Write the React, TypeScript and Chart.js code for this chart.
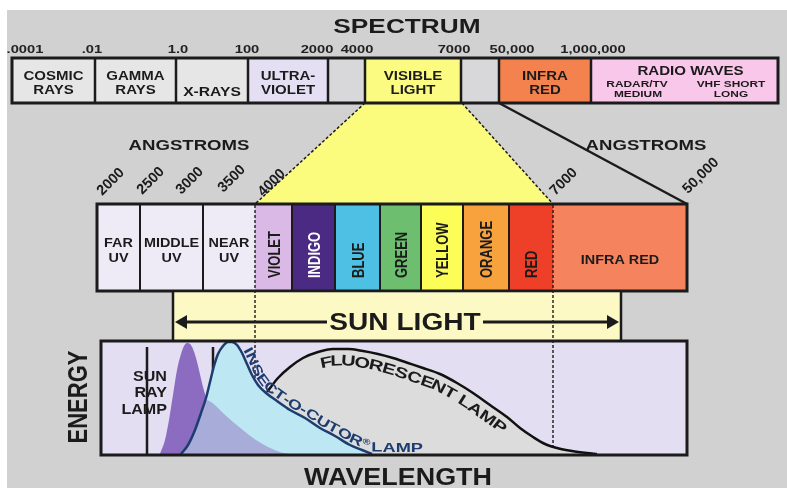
import React, { useEffect, useRef } from "react";
import Chart from "chart.js/auto";

// ---------------- data (diagram units on the chart's x / y scales) ----------------
const titleText = "SPECTRUM";
const topTickLabels = [".0001", ".01", "1.0", "100", "2000", "4000", "7000", "50,000", "1,000,000"];
const topTickAt = [25, 92, 178, 247, 317, 357, 454, 512, 593];

const topBandEdges = [12, 95, 176, 248, 328, 365, 461, 499, 591, 778];
const topBandNames: string[][] = [
  ["COSMIC", "RAYS"],
  ["GAMMA", "RAYS"],
  ["X-RAYS"],
  ["ULTRA-", "VIOLET"],
  [],
  ["VISIBLE", "LIGHT"],
  [],
  ["INFRA", "RED"],
  ["RADIO WAVES"],
];
const radioSubLabels = [["RADAR/TV", "MEDIUM"], ["VHF SHORT", "LONG"]];
const radioSubAt = [637, 731];

const angstromTitle = "ANGSTROMS";
const angstromTitleAt = [189, 646];
const angstromTickLabels = ["2000", "2500", "3000", "3500", "4000", "7000", "50,000"];
const angstromTickAt = [110, 150, 189, 231, 271, 563, 700];

const bandEdges = [97, 140, 203, 255, 292, 335, 380, 421, 463, 509, 553, 687];
const bandNames = ["FAR UV", "MIDDLE UV", "NEAR UV", "VIOLET", "INDIGO", "BLUE", "GREEN", "YELLOW", "ORANGE", "RED", "INFRA RED"];
const visibleEdges = [255, 553];
const visibleTopEdges = [365, 462];
const infraTopEdge = 499;
const sunLightRange = [173, 621];
const sunLightText = "SUN LIGHT";

const sunRayLampLines = [147, 213];
const sunRayLampText = ["SUN", "RAY", "LAMP"];

// energy curves (x = wavelength position, y = energy level, drawn on the diagram scales)
const purpleX = [160, 165, 169, 173, 177, 181, 184, 187, 190, 193, 196, 199, 202, 205, 208, 212, 216];
const purpleY = [454, 440, 420, 395, 370, 354, 346, 343, 344, 349, 358, 370, 383, 394, 402, 425, 454];

const insectX = [181, 188, 195, 201, 206, 210, 214, 218, 223, 228, 232, 237, 242, 247, 252, 258, 266, 277, 290, 305, 320, 335, 350, 362, 372];
const insectY = [454, 445, 430, 413, 398, 382, 366, 354, 346, 342, 342, 345, 353, 364, 375, 385, 393, 401, 410, 418, 428, 436, 445, 450, 454];

const overlapX = [181, 188, 195, 201, 206, 211, 217, 224, 233, 244, 256, 268, 280, 290];
const overlapY = [454, 445, 430, 413, 400, 402, 407, 414, 422, 431, 440, 447, 452, 454];

const fluorX = [267, 278, 290, 303, 318, 333, 348, 363, 378, 393, 408, 423, 440, 457, 473, 490, 507, 520, 533, 545, 557, 572, 587, 597];
const fluorY = [392, 378, 367, 358, 352, 349, 349, 351, 354, 358, 363, 368, 374, 383, 393, 405, 417, 428, 437, 444, 448, 451, 453, 454];

const insectLabel = "INSECT-O-CUTOR® LAMP";
const fluorLabel = "FLUORESCENT LAMP";
const energyLabel = "ENERGY";
const wavelengthLabel = "WAVELENGTH";

// ---------------- layout & styles ----------------
const L = {
  W: 787, H: 488,
  bgX: 7, bgY: 10,
  titleY: 25.5, titleX: 407,
  tickY: 49,
  topY0: 58, topY1: 103, line1Y: 76, line2Y: 90,
  angTitleY: 144,
  midY0: 204, midY1: 291,
  sunY1: 341, arrowY: 322,
  enY0: 341, enY1: 455, enBase: 454,
  lampTop: 347,
};
const C = {
  bg: "#d1d1d1",
  ink: "#1b1b1b",
  topBands: ["#e6e6e6", "#e6e6e6", "#e6e6e6", "#e5dff3", "#d8d8da", "#fbfb82", "#d8d8da", "#f4824f", "#f9c7ea"],
  bands: ["#efebf6", "#efebf6", "#efebf6", "#dbb9e6", "#4b2a84", "#4dc0e4", "#6dbf6f", "#fdfd57", "#f7a23c", "#ee4029", "#f4835e"],
  trap: "#fbfb7e",
  sun: "#fcf9c4",
  energy: "#e4def2",
  fluor: "#dcdcdc",
  cyan: "#bde7f3",
  overlap: "#a8acd8",
  purple: "#8c6cc0",
  insect: "#1d3d70",
};
const FONT = '"Liberation Sans", Arial, sans-serif';

function drawText(ctx: CanvasRenderingContext2D, s: string, x: number, y: number, size: number, o: any = {}) {
  const { sx = 1.2, align = "center", color = C.ink, rot = 0 } = o;
  ctx.save();
  ctx.translate(x, y);
  ctx.scale(sx, 1);
  if (rot) ctx.rotate(rot);
  ctx.font = `bold ${size}px ${FONT}`;
  ctx.fillStyle = color;
  ctx.textAlign = align;
  ctx.textBaseline = "alphabetic";
  ctx.fillText(s, 0, size * 0.358);
  ctx.restore();
}

function textOnPath(ctx: CanvasRenderingContext2D, text: string, pts: { x: number; y: number }[], x0: number, x1: number, size: number, offset: number, color: string) {
  const cum = [0];
  for (let i = 1; i < pts.length; i++) cum.push(cum[i - 1] + Math.hypot(pts[i].x - pts[i - 1].x, pts[i].y - pts[i - 1].y));
  const total = cum[cum.length - 1];
  const distAtX = (x: number) => {
    for (let i = 1; i < pts.length; i++) {
      if (pts[i].x >= x) {
        const t = (x - pts[i - 1].x) / (pts[i].x - pts[i - 1].x || 1);
        return cum[i - 1] + t * (cum[i] - cum[i - 1]);
      }
    }
    return total;
  };
  const pos = (d: number) => {
    d = Math.max(0, Math.min(total, d));
    for (let i = 1; i < pts.length; i++) {
      if (cum[i] >= d) {
        const t = (d - cum[i - 1]) / (cum[i] - cum[i - 1] || 1);
        return { x: pts[i - 1].x + t * (pts[i].x - pts[i - 1].x), y: pts[i - 1].y + t * (pts[i].y - pts[i - 1].y) };
      }
    }
    return pts[pts.length - 1];
  };
  ctx.save();
  ctx.fillStyle = color;
  ctx.textAlign = "center";
  ctx.textBaseline = "alphabetic";
  const chars = Array.from(text);
  const sizes = chars.map((c) => (c === "®" ? size * 0.6 : size));
  const ws = chars.map((c, i) => {
    ctx.font = `bold ${sizes[i]}px ${FONT}`;
    return ctx.measureText(c).width;
  });
  const tot = ws.reduce((a, b) => a + b, 0);
  const d0 = distAtX(x0), d1 = distAtX(x1);
  const k = (d1 - d0) / tot;
  let d = d0;
  chars.forEach((c, i) => {
    const w = ws[i] * k;
    const m = d + w / 2;
    const p = pos(m);
    const pa = pos(m - 5), pb = pos(m + 5);
    const a = Math.atan2(pb.y - pa.y, pb.x - pa.x);
    const off = offset + (c === "®" ? size * 0.3 : 0);
    ctx.save();
    ctx.translate(p.x + Math.sin(a) * off, p.y - Math.cos(a) * off);
    ctx.rotate(a);
    ctx.scale(k, 1);
    ctx.font = `bold ${sizes[i]}px ${FONT}`;
    ctx.fillText(c, 0, 0);
    ctx.restore();
    d += w;
  });
  ctx.restore();
}

const diagramPlugin = {
  id: "diagram",
  beforeDatasetsDraw(chart: any) {
    const ctx: CanvasRenderingContext2D = chart.ctx;
    const X = (v: number) => chart.scales.x.getPixelForValue(v);
    const Y = (v: number) => chart.scales.y.getPixelForValue(v);
    const line = (x1: number, y1: number, x2: number, y2: number, w = 2.5, dash: number[] = []) => {
      ctx.save();
      ctx.strokeStyle = C.ink;
      ctx.lineWidth = w;
      ctx.setLineDash(dash);
      ctx.beginPath();
      ctx.moveTo(X(x1), Y(y1));
      ctx.lineTo(X(x2), Y(y2));
      ctx.stroke();
      ctx.restore();
    };
    const rect = (x1: number, y1: number, x2: number, y2: number, fill: string) => {
      ctx.fillStyle = fill;
      ctx.fillRect(X(x1), Y(y1), X(x2) - X(x1), Y(y2) - Y(y1));
    };
    ctx.save();
    // backdrop
    rect(0, 0, L.W, L.H, "#ffffff");
    rect(L.bgX, L.bgY, L.W, L.H, C.bg);

    // title & top ticks
    drawText(ctx, titleText, X(L.titleX), Y(L.titleY), 21, { sx: 1.25 });
    topTickLabels.forEach((t, i) => drawText(ctx, t, X(topTickAt[i]), Y(L.tickY), 11.5, { sx: 1.28, color: "#222" }));

    // trapezoid zoom of visible light
    ctx.fillStyle = C.trap;
    ctx.beginPath();
    ctx.moveTo(X(visibleTopEdges[0]), Y(L.topY1));
    ctx.lineTo(X(visibleTopEdges[1]), Y(L.topY1));
    ctx.lineTo(X(visibleEdges[1]), Y(L.midY0));
    ctx.lineTo(X(visibleEdges[0]), Y(L.midY0));
    ctx.closePath();
    ctx.fill();
    line(visibleTopEdges[0], L.topY1, visibleEdges[0], L.midY0, 1.5, [3, 2]);
    line(visibleTopEdges[1], L.topY1, visibleEdges[1], L.midY0, 1.5, [3, 2]);
    line(infraTopEdge, L.topY1, bandEdges[bandEdges.length - 1], L.midY0, 2.5);

    // top band
    for (let i = 0; i < topBandNames.length; i++) {
      rect(topBandEdges[i], L.topY0, topBandEdges[i + 1], L.topY1, C.topBands[i]);
      const cx = (topBandEdges[i] + topBandEdges[i + 1]) / 2;
      const names = topBandNames[i];
      if (i === topBandNames.length - 1) {
        drawText(ctx, names[0], X(cx + 6), Y(70), 13, { sx: 1.16 });
        radioSubLabels.forEach((pair, j) => {
          drawText(ctx, pair[0], X(radioSubAt[j]), Y(84), 9.5, { sx: 1.25 });
          drawText(ctx, pair[1], X(radioSubAt[j] + (j === 0 ? 1 : 0)), Y(94), 9.5, { sx: 1.25 });
        });
      } else if (names.length === 2) {
        drawText(ctx, names[0], X(cx), Y(L.line1Y), 12.5, { sx: 1.2 });
        drawText(ctx, names[1], X(cx), Y(L.line2Y), 12.5, { sx: 1.2 });
      } else if (names.length === 1) {
        drawText(ctx, names[0], X(cx), Y(L.line2Y + 2), 12.5, { sx: 1.25 });
      }
    }
    for (let i = 1; i < topBandEdges.length - 1; i++) line(topBandEdges[i], L.topY0, topBandEdges[i], L.topY1, 2.5);
    ctx.strokeStyle = C.ink;
    ctx.lineWidth = 3;
    ctx.strokeRect(X(topBandEdges[0]), Y(L.topY0), X(topBandEdges[topBandEdges.length - 1]) - X(topBandEdges[0]), Y(L.topY1) - Y(L.topY0));

    // angstrom labels
    angstromTitleAt.forEach((x) => drawText(ctx, angstromTitle, X(x), Y(L.angTitleY), 15.5, { sx: 1.2 }));
    const angY = [181, 180, 180, 178, 182, 181, 175];
    angstromTickLabels.forEach((t, i) => drawText(ctx, t, X(angstromTickAt[i]), Y(angY[i]), 14.5, { sx: 1, rot: -Math.PI / 4 }));

    // middle band
    for (let i = 0; i < bandNames.length; i++) {
      rect(bandEdges[i], L.midY0, bandEdges[i + 1], L.midY1, C.bands[i]);
    }
    for (let i = 0; i < bandNames.length; i++) {
      const cx = (bandEdges[i] + bandEdges[i + 1]) / 2;
      const name = bandNames[i];
      if (i < 3) {
        const parts = name.split(" ");
        drawText(ctx, parts[0], X(cx), Y(243), 12, { sx: 1.2 });
        drawText(ctx, parts[1], X(cx), Y(258), 12, { sx: 1.2 });
      } else if (i === bandNames.length - 1) {
        drawText(ctx, name, X(cx), Y(260), 12, { sx: 1.2 });
      } else {
        drawText(ctx, name, X(cx), Y(278), 13, { sx: 1.3, rot: -Math.PI / 2, align: "left", color: i === 4 ? "#ffffff" : C.ink });
      }
    }
    for (let i = 1; i < bandEdges.length - 1; i++) {
      if (!visibleEdges.includes(bandEdges[i])) line(bandEdges[i], L.midY0, bandEdges[i], L.midY1, 2);
    }
    ctx.strokeStyle = C.ink;
    ctx.lineWidth = 3;
    ctx.setLineDash([]);
    ctx.strokeRect(X(bandEdges[0]), Y(L.midY0), X(bandEdges[bandEdges.length - 1]) - X(bandEdges[0]), Y(L.midY1) - Y(L.midY0));

    // sun light bar
    rect(sunLightRange[0], L.midY1 + 1.5, sunLightRange[1], L.sunY1, C.sun);
    line(sunLightRange[0], L.midY1, sunLightRange[0], L.sunY1, 2.5);
    line(sunLightRange[1], L.midY1, sunLightRange[1], L.sunY1, 2.5);

    // energy box background
    rect(bandEdges[0] + 4, L.enY0, bandEdges[bandEdges.length - 1], L.enY1, C.energy);

    // dashed visible-light edges running down
    visibleEdges.forEach((x) => line(x, L.midY0 + 1, x, L.enBase, 1.4, [3, 2]));

    // sun light arrow + text
    ctx.save();
    ctx.strokeStyle = C.ink;
    ctx.lineWidth = 3;
    ctx.beginPath();
    ctx.moveTo(X(sunLightRange[0] + 12), Y(L.arrowY));
    ctx.lineTo(X(327), Y(L.arrowY));
    ctx.moveTo(X(483), Y(L.arrowY));
    ctx.lineTo(X(sunLightRange[1] - 12), Y(L.arrowY));
    ctx.stroke();
    ctx.fillStyle = C.ink;
    ctx.beginPath();
    ctx.moveTo(X(sunLightRange[0] + 2), Y(L.arrowY));
    ctx.lineTo(X(sunLightRange[0] + 14), Y(L.arrowY - 7));
    ctx.lineTo(X(sunLightRange[0] + 14), Y(L.arrowY + 7));
    ctx.closePath();
    ctx.fill();
    ctx.beginPath();
    ctx.moveTo(X(sunLightRange[1] - 2), Y(L.arrowY));
    ctx.lineTo(X(sunLightRange[1] - 14), Y(L.arrowY - 7));
    ctx.lineTo(X(sunLightRange[1] - 14), Y(L.arrowY + 7));
    ctx.closePath();
    ctx.fill();
    ctx.restore();
    drawText(ctx, sunLightText, X(405), Y(321.5), 24, { sx: 1.17 });

    // axis titles
    drawText(ctx, energyLabel, X(77), Y(397), 22, { sx: 1.25, rot: -Math.PI / 2 });
    drawText(ctx, wavelengthLabel, X(398), Y(476.5), 23, { sx: 1.17 });

    // sun ray lamp lines & text
    sunRayLampLines.forEach((x) => line(x, L.lampTop, x, L.enBase, 2.5));
    const lampY = [376, 392, 409];
    sunRayLampText.forEach((t, i) => drawText(ctx, t, X(167), Y(lampY[i]), 14, { sx: 1.15, align: "right" }));
    ctx.restore();
  },
  afterDatasetsDraw(chart: any) {
    const ctx: CanvasRenderingContext2D = chart.ctx;
    const X = (v: number) => chart.scales.x.getPixelForValue(v);
    const Y = (v: number) => chart.scales.y.getPixelForValue(v);
    ctx.save();
    ctx.strokeStyle = C.ink;
    ctx.lineWidth = 3;
    ctx.setLineDash([]);
    ctx.strokeRect(X(bandEdges[0] + 4), Y(L.enY0), X(bandEdges[bandEdges.length - 1]) - X(bandEdges[0] + 4), Y(L.enY1) - Y(L.enY0));
    ctx.restore();

    const insPts = insectX.map((x, i) => ({ x: X(x), y: Y(insectY[i]) })).filter((p, i) => insectX[i] >= 232);
    insPts.push({ x: X(470), y: Y(L.enBase) });
    textOnPath(ctx, insectLabel, insPts, X(241), X(423), 13.5, 2.5, C.insect);

    const flPts = fluorX.map((x, i) => ({ x: X(x), y: Y(fluorY[i]) })).filter((p, i) => fluorX[i] >= 290);
    textOnPath(ctx, fluorLabel, flPts, X(318), X(512), 15, -16.5, C.ink);
  },
};

function series(xs: number[], ys: number[], extra: any) {
  return {
    data: xs.map((x, i) => ({ x, y: ys[i] })),
    pointRadius: 0,
    cubicInterpolationMode: "monotone",
    ...extra,
  };
}

export default function App() {
  const ref = useRef<HTMLCanvasElement | null>(null);
  useEffect(() => {
    document.body.style.margin = "0";
    const canvas = ref.current!;
    const base = { value: L.enBase };
    const chart = new Chart(canvas, {
      type: "line",
      data: {
        datasets: [
          series(insectX, insectY, { borderColor: C.insect, borderWidth: 2.5, fill: false, order: 1 }),
          series(overlapX, overlapY, { borderColor: "rgba(0,0,0,0)", borderWidth: 0, backgroundColor: C.overlap, fill: base, order: 2 }),
          series(insectX, insectY, { borderColor: "rgba(0,0,0,0)", borderWidth: 0, backgroundColor: C.cyan, fill: base, order: 3 }),
          series(purpleX, purpleY, { borderColor: "rgba(0,0,0,0)", borderWidth: 0, backgroundColor: C.purple, fill: base, order: 4 }),
          series(fluorX, fluorY, { borderColor: "#111111", borderWidth: 2.5, backgroundColor: C.fluor, fill: base, order: 5 }),
        ],
      } as any,
      options: {
        responsive: false,
        maintainAspectRatio: false,
        devicePixelRatio: 1,
        animation: false,
        events: [],
        layout: { padding: 0 },
        plugins: { legend: { display: false }, tooltip: { enabled: false } },
        scales: {
          x: { type: "linear", min: 0, max: L.W, display: false },
          y: { type: "linear", min: 0, max: L.H, reverse: true, display: false },
        },
      } as any,
      plugins: [diagramPlugin as any],
    });
    return () => chart.destroy();
  }, []);
  return <canvas ref={ref} width={L.W} height={L.H} style={{ display: "block" }} />;
}
